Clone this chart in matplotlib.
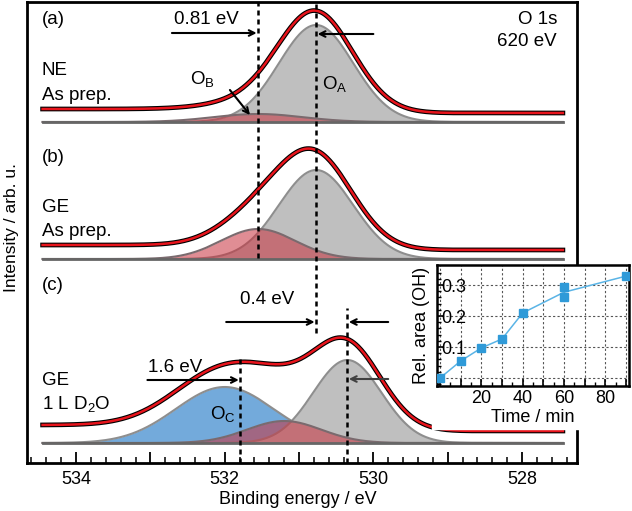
import numpy as np
import matplotlib
matplotlib.use("Agg")
import matplotlib.pyplot as plt
from matplotlib.patches import Rectangle

plt.rcParams['font.family'] = ['Liberation Sans', 'DejaVu Sans']
plt.rcParams['mathtext.fontset'] = 'custom'
plt.rcParams['mathtext.rm'] = 'Liberation Sans'

# fitted peak components: centre (eV), width sigma (eV), height (arb.)
# panel a: NE as prepared
a_centers = [530.77, 531.55]
a_sigmas = [0.50, 0.60]
a_heights = [97, 8]
a_bg = [13, 9]        # background at high / low binding energy
a_offset = 341

# panel b: GE as prepared
b_centers = [530.77, 531.55]
b_sigmas = [0.50, 0.50]
b_heights = [89, 30]
b_bg = [14, 9]
b_offset = 204

# panel c: GE + 1 L D2O  (O_A, O_B, O_C)
c_centers = [530.35, 531.20, 532.00]
c_sigmas = [0.46, 0.50, 0.66]
c_heights = [83, 22, 56]
c_bg = [18, 12]
c_offset = 20

# inset: relative OH area vs time
t_min = [0, 10, 20, 30, 40, 60, 60, 90]
rel_area = [0.0, 0.055, 0.097, 0.126, 0.21, 0.294, 0.261, 0.329]
t_line = [0, 10, 20, 30, 40, 60, 90]
area_line = [0.0, 0.055, 0.097, 0.126, 0.21, 0.277, 0.329]

E = np.linspace(527.45, 534.45, 700)

GRAY_FILL = '#bfbfbf'
GRAY_EDGE = '#8e8e8e'
RED_FILL = '#c8303c'
BLUE_FILL = '#5b9bd5'


def gauss(c, s, h):
    return h * np.exp(-(E - c) ** 2 / (2 * s ** 2))


def draw_panel(ax, centers, sigmas, heights, bg, off, fills):
    comps = [gauss(c, s, h) for c, s, h in zip(centers, sigmas, heights)]
    total = np.sum(comps, axis=0)
    # shirley-like step: fraction of area on the low-BE side
    frac = np.cumsum(total) / np.sum(total)
    back = bg[1] + (bg[0] - bg[1]) * frac
    for comp, (fc, alpha, z) in zip(comps, fills):
        ax.fill_between(E, off, off + comp, color=fc, alpha=alpha, lw=0, zorder=z)
        ax.plot(E, off + comp, color=GRAY_EDGE if fc != RED_FILL else '#7a6a6e',
                lw=1.5, zorder=z + 0.1)
    ax.plot(E, np.full_like(E, off), color='#666666', lw=2, zorder=6)
    env = off + total + back
    ax.plot(E, env, color='black', lw=3.4, zorder=7)
    ax.plot(E, env, color='#e8141c', lw=1.8, zorder=8)


fig = plt.figure(figsize=(6.32, 5.11), dpi=100)
ax = fig.add_axes([27 / 632, 48 / 511, 550 / 632, 461 / 511])

draw_panel(ax, a_centers, a_sigmas, a_heights, a_bg, a_offset,
           [(GRAY_FILL, 1.0, 2), (RED_FILL, 0.55, 3)])
draw_panel(ax, b_centers, b_sigmas, b_heights, b_bg, b_offset,
           [(GRAY_FILL, 1.0, 2), (RED_FILL, 0.55, 3)])
draw_panel(ax, c_centers, c_sigmas, c_heights, c_bg, c_offset,
           [(GRAY_FILL, 1.0, 2), (RED_FILL, 0.55, 3), (BLUE_FILL, 0.85, 1)])

ax.set_xlim(534.66, 527.26)
ax.set_ylim(0, 461)
ax.set_yticks([])
ax.set_xticks(np.arange(528, 535, 1))
ax.set_xticklabels(['528', '', '530', '', '532', '', '534'], fontsize=13)
ax.set_xticks(np.arange(527.4, 534.7, 0.2), minor=True)
ax.tick_params(axis='x', which='major', direction='in', length=8, width=1.3, pad=6)
ax.tick_params(axis='x', which='minor', direction='in', length=4, width=1.1)
for sp in ax.spines.values():
    sp.set_linewidth(2)

# dashed guide lines
dash = dict(color='black', lw=1.8, ls=(0, (2, 1.6)), zorder=9)
ax.plot([531.55, 531.55], [205, 461], **dash)
ax.plot([530.77, 530.77], [130, 461], **dash)
ax.plot([531.79, 531.79], [0, 108], **dash)
ax.plot([530.35, 530.35], [0, 155], **dash)

arr = dict(arrowstyle='->', color='black', lw=1.5, shrinkA=0, shrinkB=0)
ax.annotate('', xy=(531.57, 430), xytext=(532.71, 430), arrowprops=arr, zorder=10)
ax.annotate('', xy=(530.75, 429), xytext=(530.00, 429), arrowprops=arr, zorder=10)
ax.annotate('', xy=(531.66, 348), xytext=(531.93, 373), arrowprops=arr, zorder=10)
ax.annotate('', xy=(530.79, 141), xytext=(531.98, 141), arrowprops=arr, zorder=10)
ax.annotate('', xy=(530.33, 141), xytext=(529.80, 141), arrowprops=arr, zorder=10)
ax.annotate('', xy=(531.81, 83), xytext=(533.04, 83), arrowprops=arr, zorder=10)
ax.annotate('', xy=(530.33, 84), xytext=(529.80, 84), arrowprops=dict(arr, color='#404040'),
            zorder=10)

fs = 13.5
txt = dict(fontsize=fs, va='center', zorder=11)
ax.text(534.46, 443, '(a)', ha='left', **txt)
ax.text(532.25, 443, '0.81 eV', ha='center', **txt)
ax.text(527.53, 443, 'O 1s', ha='right', **txt)
ax.text(527.53, 421, '620 eV', ha='right', **txt)
ax.text(534.46, 392, 'NE', ha='left', **txt)
ax.text(534.46, 368, 'As prep.', ha='left', **txt)
ax.text(532.47, 383, r'O$_{\mathregular{B}}$', ha='left', **txt)
ax.text(530.69, 378, r'O$_{\mathregular{A}}$', ha='left', **txt)
ax.text(534.46, 305, '(b)', ha='left', **txt)
ax.text(534.46, 255, 'GE', ha='left', **txt)
ax.text(534.46, 231, 'As prep.', ha='left', **txt)
ax.text(534.46, 178, '(c)', ha='left', **txt)
ax.text(531.43, 164, '0.4 eV', ha='center', **txt)
ax.text(532.67, 96, '1.6 eV', ha='center', **txt)
ax.text(534.46, 83, 'GE', ha='left', **txt)
ax.text(534.46, 58, r'1 L D$_{\mathregular{2}}$O', ha='left', **txt)
ax.text(532.20, 48, r'O$_{\mathregular{C}}$', ha='left', **txt)

fig.text(12 / 632, 1 - 228 / 511, 'Intensity / arb. u.', rotation=90,
         ha='center', va='center', fontsize=12.5)
fig.text(298 / 632, 1 - 500 / 511, 'Binding energy / eV', ha='center', va='center',
         fontsize=13)

# white block behind the inset x label
fig.patches.append(Rectangle((432 / 632, 1 - 429 / 511), 200 / 632, 42 / 511,
                             transform=fig.transFigure, color='white', zorder=5))

# inset
axi = fig.add_axes([437 / 632, 125 / 511, 192 / 632, 121 / 511], zorder=6)
axi.plot(t_line, area_line, color='#5ab4e6', lw=1.1, zorder=2)
axi.plot(t_min, rel_area, ls='none', marker='s', ms=5.5, color='#2f9ad8', zorder=3)
axi.set_xlim(-1.5, 91.5)
axi.set_ylim(-0.026, 0.365)
axi.set_xticks(np.arange(0, 100, 10))
axi.set_xticklabels(['', '', '20', '', '40', '', '60', '', '80', ''], fontsize=13)
axi.set_xticks(np.arange(5, 95, 10), minor=True)
axi.set_yticks([0, 0.1, 0.2, 0.3])
axi.set_yticklabels(['', '0.1', '0.2', '0.3'], fontsize=13)
axi.set_yticks(np.arange(-0.02, 0.36, 0.02), minor=True)
axi.tick_params(which='major', direction='in', length=5, width=1.2)
axi.tick_params(which='minor', direction='in', length=3, width=1.0)
axi.tick_params(axis='y', pad=-3)
axi.tick_params(axis='x', pad=3)
for lbl in axi.get_yticklabels():
    lbl.set_ha('left')
axi.grid(True, which='major', color='#555555', lw=0.8, ls=(0, (2, 2)))
axi.set_axisbelow(True)
for sp in axi.spines.values():
    sp.set_linewidth(1.8)
axi.set_xlabel('Time / min', fontsize=13, labelpad=1)
axi.set_ylabel('Rel. area (OH)', fontsize=13)
axi.yaxis.set_label_coords(-0.036, 0.5)

fig.savefig('out.png', dpi=100)
